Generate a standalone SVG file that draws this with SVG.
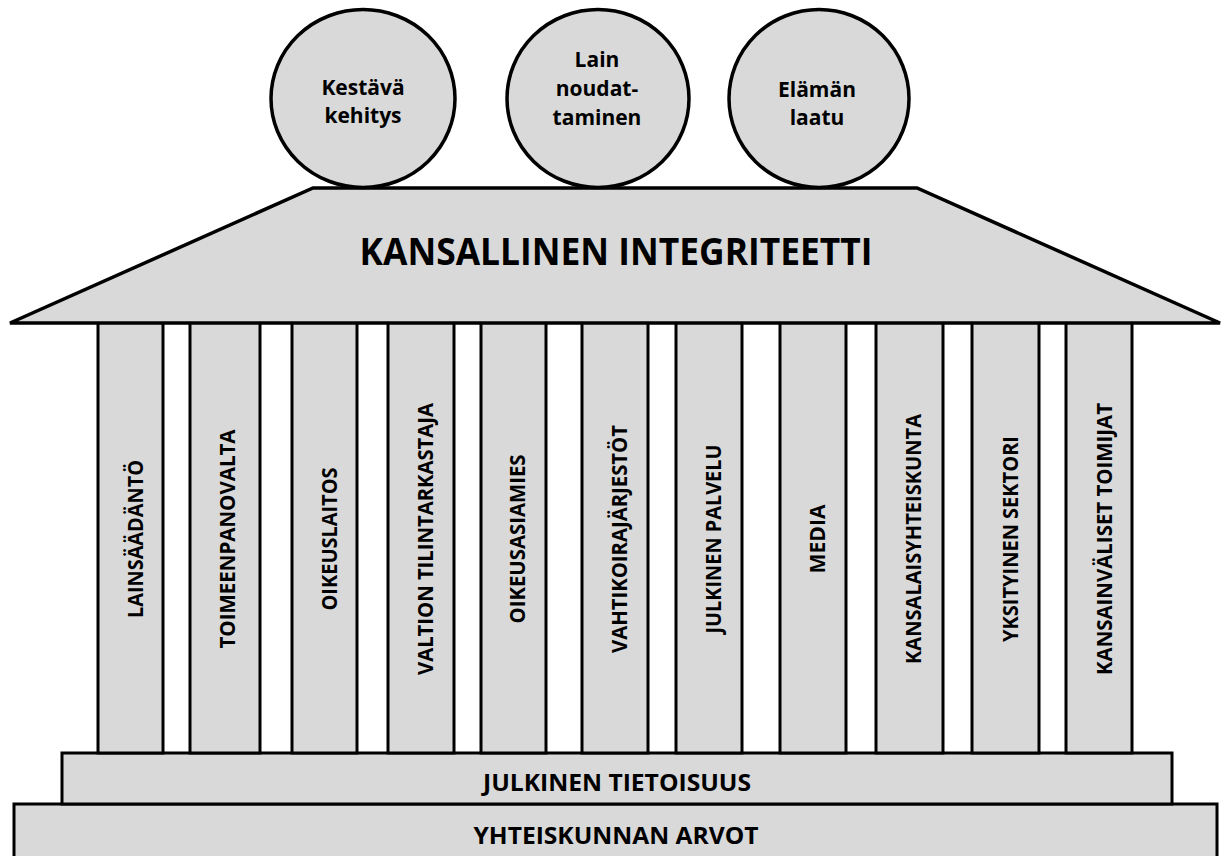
<svg xmlns="http://www.w3.org/2000/svg" width="1225" height="856" viewBox="0 0 1225 856">
<style>
.shape{fill:#d9d9d9;stroke:#000;stroke-width:3.5;stroke-linejoin:miter}
.pillar{fill:#d9d9d9;stroke:#000;stroke-width:3}
.t{font-family:"Open Sans","Liberation Sans",sans-serif;font-weight:bold;fill:#000;text-anchor:middle}
.ct{font-size:21px}
.pt{font-size:21px}
</style>
<rect width="1225" height="856" fill="#fff"/>
<g id="base-values">
<rect class="pillar" x="14" y="804" width="1203" height="70"/>
<text class="t" x="616" y="844" font-size="24" textLength="285" lengthAdjust="spacingAndGlyphs">YHTEISKUNNAN ARVOT</text>
</g>
<g id="base-awareness">
<rect class="pillar" x="62" y="753" width="1110" height="51"/>
<text class="t" x="617" y="791" font-size="24" textLength="268" lengthAdjust="spacingAndGlyphs">JULKINEN TIETOISUUS</text>
</g>
<g id="pillar-1"><rect class="pillar" x="98" y="320" width="65" height="433"/><text class="t pt" transform="translate(143,539) rotate(-90)" textLength="158" lengthAdjust="spacingAndGlyphs">LAINSÄÄDÄNTÖ</text></g>
<g id="pillar-2"><rect class="pillar" x="190" y="320" width="70" height="433"/><text class="t pt" transform="translate(235,539) rotate(-90)" textLength="219" lengthAdjust="spacingAndGlyphs">TOIMEENPANOVALTA</text></g>
<g id="pillar-3"><rect class="pillar" x="292" y="320" width="65" height="433"/><text class="t pt" transform="translate(336.5,539) rotate(-90)" textLength="143" lengthAdjust="spacingAndGlyphs">OIKEUSLAITOS</text></g>
<g id="pillar-4"><rect class="pillar" x="388" y="320" width="66" height="433"/><text class="t pt" transform="translate(432.5,539) rotate(-90)" textLength="272" lengthAdjust="spacingAndGlyphs">VALTION TILINTARKASTAJA</text></g>
<g id="pillar-5"><rect class="pillar" x="481" y="320" width="65" height="433"/><text class="t pt" transform="translate(525,539) rotate(-90)" textLength="169" lengthAdjust="spacingAndGlyphs">OIKEUSASIAMIES</text></g>
<g id="pillar-6"><rect class="pillar" x="582" y="320" width="66" height="433"/><text class="t pt" transform="translate(626.5,539) rotate(-90)" textLength="228" lengthAdjust="spacingAndGlyphs">VAHTIKOIRAJÄRJESTÖT</text></g>
<g id="pillar-7"><rect class="pillar" x="676" y="320" width="66" height="433"/><text class="t pt" transform="translate(721,539) rotate(-90)" textLength="189" lengthAdjust="spacingAndGlyphs">JULKINEN PALVELU</text></g>
<g id="pillar-8"><rect class="pillar" x="780" y="320" width="66" height="433"/><text class="t pt" transform="translate(825,539) rotate(-90)" textLength="69" lengthAdjust="spacingAndGlyphs">MEDIA</text></g>
<g id="pillar-9"><rect class="pillar" x="876" y="320" width="67" height="433"/><text class="t pt" transform="translate(921,539) rotate(-90)" textLength="250" lengthAdjust="spacingAndGlyphs">KANSALAISYHTEISKUNTA</text></g>
<g id="pillar-10"><rect class="pillar" x="972" y="320" width="67" height="433"/><text class="t pt" transform="translate(1017.5,539) rotate(-90)" textLength="206" lengthAdjust="spacingAndGlyphs">YKSITYINEN SEKTORI</text></g>
<g id="pillar-11"><rect class="pillar" x="1066" y="320" width="66" height="433"/><text class="t pt" transform="translate(1111.5,539) rotate(-90)" textLength="272" lengthAdjust="spacingAndGlyphs">KANSAINVÄLISET TOIMIJAT</text></g>
<g id="roof">
<polygon class="shape" points="313,188 917,188 1220,323 10,323"/>
<text class="t" x="616" y="265" font-size="37" textLength="513" lengthAdjust="spacingAndGlyphs">KANSALLINEN INTEGRITEETTI</text>
</g>
<g id="circle-1">
<ellipse class="shape" cx="363" cy="98.5" rx="92" ry="89"/>
<text class="t ct" x="363" y="95">Kestävä</text>
<text class="t ct" x="363" y="123">kehitys</text>
</g>
<g id="circle-2">
<ellipse class="shape" cx="598" cy="98.5" rx="91" ry="89"/>
<text class="t ct" x="597" y="67">Lain</text>
<text class="t ct" x="597" y="96">noudat-</text>
<text class="t ct" x="597" y="125">taminen</text>
</g>
<g id="circle-3">
<ellipse class="shape" cx="819" cy="98.5" rx="90" ry="89"/>
<text class="t ct" x="817" y="97">Elämän</text>
<text class="t ct" x="817" y="125">laatu</text>
</g>
<g id="connectors"/>
</svg>
